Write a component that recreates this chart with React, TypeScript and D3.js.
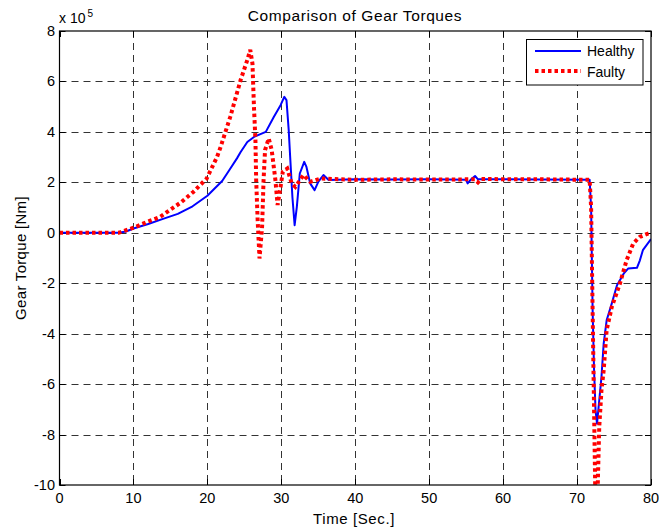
import React from 'react'
import * as d3 from 'd3'

// time [s] / torque [x 1e5 Nm]
const healthyT = [0, 8, 9, 10, 12, 14, 16, 18, 20, 22, 23, 24, 24.5, 25.4, 26.3, 27.9, 29, 29.9, 30.4, 30.7, 31, 31.2, 31.5, 31.8, 32.1, 32.5, 33.1, 33.4, 33.9, 34.5, 35, 35.7, 36.4, 40, 45, 50, 55, 55.2, 55.6, 56.2, 56.6, 60, 65, 71.7, 71.9, 72.1, 72.3, 72.5, 72.7, 73, 73.3, 73.6, 74, 74.7, 75.4, 76.3, 76.9, 78.1, 78.5, 78.9, 80]
const healthyV = [0, 0, 0.05, 0.17, 0.35, 0.55, 0.75, 1.05, 1.47, 2.05, 2.5, 2.95, 3.2, 3.6, 3.8, 4.0, 4.6, 5.06, 5.39, 5.26, 4.07, 3.0, 1.42, 0.3, 1.03, 2.35, 2.81, 2.61, 1.96, 1.69, 2.02, 2.29, 2.09, 2.12, 2.11, 2.12, 2.1, 1.96, 2.1, 2.25, 2.12, 2.12, 2.11, 2.1, 1.0, -3, -5.45, -7.04, -7.57, -6.64, -5.72, -4.39, -3.47, -2.8, -2.08, -1.62, -1.42, -1.39, -1.09, -0.69, -0.25]

const faultyT = [0, 8, 10, 12, 13.6, 16.4, 18.1, 19.9, 21.3, 21.8, 23.1, 24.5, 25.4, 25.8, 26.1, 26.3, 26.5, 26.6, 26.8, 27.05, 27.4, 27.6, 27.8, 28.3, 28.7, 29.2, 29.5, 29.9, 30.2, 30.8, 31.4, 31.9, 33, 33.9, 35.3, 40, 45, 50, 56.2, 56.6, 57, 65, 71.7, 71.9, 72.2, 72.45, 72.6, 72.8, 73, 73.3, 73.6, 74, 74.7, 75.8, 76.7, 77.6, 78.5, 79.6, 80]
const faultyV = [0, 0, 0.2, 0.45, 0.63, 1.2, 1.62, 2.15, 3.0, 3.41, 4.6, 6.06, 6.85, 7.25, 6.7, 5.0, 3.67, 2.09, 0.5, -1.02, 0.23, 2.09, 3.28, 3.74, 3.28, 2.09, 1.1, 1.82, 2.42, 2.55, 1.96, 1.82, 2.29, 2.02, 2.15, 2.1, 2.12, 2.11, 2.12, 2.0, 2.13, 2.12, 2.1, 1.0, -5, -10, -10.8, -10, -7.7, -6.25, -5.45, -3.86, -2.94, -2.01, -1.09, -0.42, -0.16, -0.03, 0]

const xTicks = [0, 10, 20, 30, 40, 50, 60, 70, 80]
const yTicks = [-10, -8, -6, -4, -2, 0, 2, 4, 6, 8]
const seriesNames = ['Healthy', 'Faulty']

const W = 659, H = 531
const L = 59.5, R = 651, T = 31, B = 485
const font = 'Arial, "Liberation Sans", Helvetica, sans-serif'

export default function App() {
  const x = d3.scaleLinear().domain([0, 80]).range([L, R])
  const y = d3.scaleLinear().domain([-10, 8]).range([B, T])

  const line = d3.line<[number, number]>()
    .x(d => x(d[0]))
    .y(d => y(d[1]))

  const healthy = healthyT.map((t, i) => [t, healthyV[i]] as [number, number])
  const faulty = faultyT.map((t, i) => [t, faultyV[i]] as [number, number])

  const tk = 6

  return (
    <svg width={W} height={H} style={{ position: 'absolute', left: 0, top: 0, background: '#fff' }} fontFamily={font}>
      <defs>
        <clipPath id="plot">
          <rect x={L} y={T} width={R - L} height={B - T} />
        </clipPath>
      </defs>
      <rect x={0} y={0} width={W} height={H} fill="#fff" />

      {/* grid */}
      <g stroke="#333" strokeWidth={1} strokeDasharray="7 5" fill="none">
        {xTicks.slice(1, -1).map(t => (
          <line key={'gx' + t} x1={Math.round(x(t)) + 0.5} x2={Math.round(x(t)) + 0.5} y1={T} y2={B} />
        ))}
        {yTicks.slice(1, -1).map(t => (
          <line key={'gy' + t} x1={L} x2={R} y1={Math.round(y(t)) + 0.5} y2={Math.round(y(t)) + 0.5} />
        ))}
      </g>

      {/* ticks, inward on all sides */}
      <g stroke="#000" strokeWidth={1}>
        {xTicks.map(t => {
          const px = Math.round(x(t)) + 0.5
          return (
            <g key={'tx' + t}>
              <line x1={px} x2={px} y1={B} y2={B - tk} />
              <line x1={px} x2={px} y1={T} y2={T + tk} />
            </g>
          )
        })}
        {yTicks.map(t => {
          const py = Math.round(y(t)) + 0.5
          return (
            <g key={'ty' + t}>
              <line x1={L} x2={L + tk} y1={py} y2={py} />
              <line x1={R} x2={R - tk} y1={py} y2={py} />
            </g>
          )
        })}
      </g>

      {/* series */}
      <g clipPath="url(#plot)" fill="none">
        <path d={line(healthy) || ''} stroke="#0000ff" strokeWidth={2} strokeLinejoin="round" />
        <path d={line(faulty) || ''} stroke="#ff0000" strokeWidth={4} strokeDasharray="3.5 3" />
      </g>

      {/* axes box */}
      <rect x={L} y={T} width={R - L} height={B - T} fill="none" stroke="#000" strokeWidth={1.2} />

      {/* tick labels */}
      <g fontSize={14.5} fill="#000">
        {xTicks.map(t => (
          <text key={'lx' + t} x={x(t)} y={503} textAnchor="middle">{t}</text>
        ))}
        {yTicks.map(t => (
          <text key={'ly' + t} x={55} y={y(t)} textAnchor="end" dominantBaseline="central">{t}</text>
        ))}
      </g>

      {/* exponent */}
      <text x={59} y={23} fontSize={14} fill="#000">x 10</text>
      <text x={87.5} y={16.5} fontSize={10} fill="#000">5</text>

      {/* title and labels */}
      <text x={355} y={20.5} textAnchor="middle" fontSize={15.5} letterSpacing={0.6} fill="#000">Comparison of Gear Torques</text>
      <text x={354} y={524} textAnchor="middle" fontSize={15} letterSpacing={0.6} fill="#000">Time [Sec.]</text>
      <text transform={`translate(26,${(T + B) / 2}) rotate(-90)`} textAnchor="middle" fontSize={15} letterSpacing={0.3} fill="#000">Gear Torque [Nm]</text>

      {/* legend */}
      <g>
        <rect x={526.5} y={39.5} width={116.5} height={45.5} fill="#fff" stroke="#000" strokeWidth={1} />
        <line x1={535} x2={581} y1={51} y2={51} stroke="#0000ff" strokeWidth={2} />
        <line x1={535} x2={581} y1={71} y2={71} stroke="#ff0000" strokeWidth={4} strokeDasharray="3.5 3" />
        <text x={587} y={51} dominantBaseline="central" fontSize={14} fill="#000">{seriesNames[0]}</text>
        <text x={587} y={71.5} dominantBaseline="central" fontSize={14} fill="#000">{seriesNames[1]}</text>
      </g>
    </svg>
  )
}
